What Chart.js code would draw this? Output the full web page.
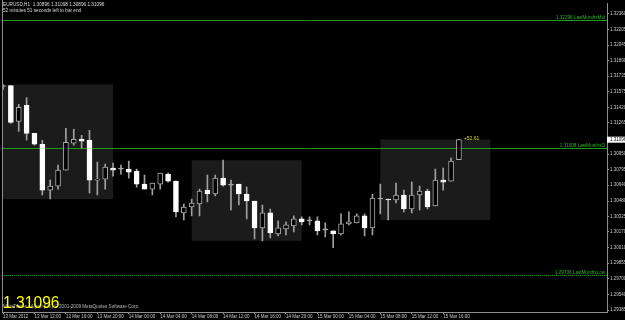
<!DOCTYPE html>
<html>
<head>
<meta charset="utf-8">
<script src="https://cdn.jsdelivr.net/npm/chart.js@4.4.1/dist/chart.umd.min.js"></script>
<style>
  html, body { margin: 0; padding: 0; background: #000; }
  #wrap { width: 625px; height: 320px; }
</style>
</head>
<body>
<div id="wrap"><canvas id="chart" width="625" height="320"></canvas></div>
<script>
// Chart header / footer texts
const symbol = 'EURUSD,H1';
const timeLeft = '52 minutes 51 seconds left to bar end';
const copyright = 'MetaTrader - Alpari (UK) \u00a9 2001-2009 MetaQuotes Software Corp.';
const pipsText = '+52.61';

// H1 bars, 13 Mar 2012 08:00 .. 15 Mar 2012 18:00
const open = [
  1.3163, 1.3164, 1.3128, 1.3144, 1.3116, 1.3105, 1.3059, 1.3063, 1.3079, 1.3106,
  1.3110, 1.3109, 1.3069, 1.3070, 1.3081, 1.3080, 1.3080, 1.3078, 1.3065, 1.3060,
  1.3065, 1.3075, 1.3068, 1.3036, 1.3042, 1.3045, 1.3059, 1.3055, 1.3071, 1.3064,
  1.3065, 1.3055, 1.3048, 1.3021, 1.3036, 1.3015, 1.3020, 1.3023, 1.3030, 1.3028,
  1.3028, 1.3019, 1.3018, 1.3015, 1.3025, 1.3026, 1.3033, 1.3021, 1.3050, 1.3050,
  1.3049, 1.3054, 1.3040, 1.3054, 1.3058, 1.3043, 1.3069, 1.3068, 1.30896
];
const high = [
  1.3165, 1.3164, 1.3145, 1.3152, 1.3116, 1.3109, 1.3069, 1.3084, 1.3121, 1.3120,
  1.3114, 1.3119, 1.3087, 1.3085, 1.3086, 1.3084, 1.3088, 1.3080, 1.3074, 1.3066,
  1.3076, 1.3076, 1.3068, 1.3045, 1.3050, 1.3060, 1.3074, 1.3074, 1.3089, 1.3069,
  1.3065, 1.3062, 1.3048, 1.3044, 1.3040, 1.3028, 1.3027, 1.3033, 1.3032, 1.3032,
  1.3032, 1.3026, 1.3018, 1.3035, 1.3037, 1.3035, 1.3035, 1.3055, 1.3065, 1.3050,
  1.3066, 1.3059, 1.3067, 1.3063, 1.3060, 1.3080, 1.3081, 1.3091, 1.31098
];
const low = [
  1.3160, 1.3126, 1.3118, 1.3109, 1.3104, 1.3054, 1.3050, 1.3060, 1.3079, 1.3104,
  1.3101, 1.3056, 1.3054, 1.3060, 1.3073, 1.3075, 1.3071, 1.3062, 1.3060, 1.3054,
  1.3060, 1.3067, 1.3032, 1.3029, 1.3033, 1.3033, 1.3047, 1.3053, 1.3063, 1.3039,
  1.3044, 1.3030, 1.3010, 1.3008, 1.3011, 1.3013, 1.3014, 1.3017, 1.3024, 1.3024,
  1.3014, 1.3012, 1.3001, 1.3014, 1.3024, 1.3026, 1.3013, 1.3014, 1.3035, 1.3029,
  1.3046, 1.3037, 1.3036, 1.3039, 1.3040, 1.3043, 1.3059, 1.3068, 1.30896
];
const close = [
  1.3163, 1.3127, 1.3142, 1.3116, 1.3105, 1.3059, 1.3063, 1.3079, 1.3107, 1.3110,
  1.3108, 1.3069, 1.3070, 1.3082, 1.3079, 1.3080, 1.3077, 1.3065, 1.3060, 1.3066,
  1.3076, 1.3068, 1.3037, 1.3042, 1.3046, 1.3058, 1.3055, 1.3071, 1.3064, 1.3064,
  1.3055, 1.3048, 1.3021, 1.3036, 1.3016, 1.3021, 1.3024, 1.3030, 1.3027, 1.3028,
  1.3018, 1.3019, 1.3015, 1.3025, 1.3027, 1.3033, 1.3021, 1.3051, 1.3050, 1.3049,
  1.3054, 1.3040, 1.3054, 1.3058, 1.3042, 1.3069, 1.3067, 1.3088, 1.31096
];

// time axis labels and the bar each one sits on
const timeLabels = [
  '13 Mar 2012', '13 Mar 12:00', '13 Mar 16:00', '13 Mar 20:00',
  '14 Mar 00:00', '14 Mar 04:00', '14 Mar 08:00', '14 Mar 12:00', '14 Mar 16:00', '14 Mar 20:00',
  '15 Mar 00:00', '15 Mar 04:00', '15 Mar 08:00', '15 Mar 12:00', '15 Mar 16:00'
];
const timeLabelBars = [0, 4, 8, 12, 16, 20, 24, 28, 32, 36, 40, 44, 48, 52, 56];

// price axis labels
const priceLabels = [
  1.32360, 1.32205, 1.32045, 1.31890, 1.31735, 1.31575, 1.31420, 1.31265,
  1.30950, 1.30795, 1.30640, 1.30480, 1.30325, 1.30170, 1.30010,
  1.29855, 1.29700, 1.29540, 1.29385
];

// session range boxes (bar index from/to, high/low)
const boxStart = [0, 24, 48];
const boxEnd = [14, 38, 62];
const boxHigh = [1.3165, 1.3089, 1.31098];
const boxLow = [1.3050, 1.3008, 1.3029];

// monthly levels
const levelValues = [1.32296, 1.31008, 1.29736];
const levelNames = ['LastMonthsMid', 'LastMonthsO', 'LastMonthsLow'];

const FONT = "'Liberation Sans', Arial, sans-serif";
const last = close.length - 1;

const bars = open.map((_, i) => i);
const bodyFill = bars.map(i => close[i] > open[i] ? '#000000' : (close[i] < open[i] ? '#ffffff' : '#b0b0b0'));
const bodyBorder = bars.map(i => close[i] < open[i] ? '#ffffff' : '#a8a8a8');

const mtOverlay = {
  id: 'mtOverlay',
  beforeDatasetsDraw(chart) {
    const { ctx, chartArea, scales: { x, y } } = chart;
    ctx.save();
    ctx.beginPath();
    ctx.rect(chartArea.left, chartArea.top, chartArea.width, chartArea.height);
    ctx.clip();

    // session boxes
    ctx.fillStyle = '#1b1b1b';
    boxStart.forEach((s, i) => {
      const x0 = x.getPixelForValue(s);
      const x1 = x.getPixelForValue(boxEnd[i]);
      const y0 = y.getPixelForValue(boxHigh[i]);
      const y1 = y.getPixelForValue(boxLow[i]);
      ctx.fillRect(x0, y0, x1 - x0, y1 - y0);
    });

    // level lines + labels
    ctx.font = `4.6px ${FONT}`;
    ctx.textAlign = 'right';
    ctx.textBaseline = 'alphabetic';
    levelValues.forEach((v, i) => {
      const py = Math.round(y.getPixelForValue(v)) + 0.5;
      ctx.strokeStyle = '#1f9a1f';
      ctx.lineWidth = 1;
      ctx.setLineDash(i === 2 ? [1, 1] : []);
      ctx.beginPath();
      ctx.moveTo(chartArea.left, py);
      ctx.lineTo(chartArea.right, py);
      ctx.stroke();
      ctx.fillStyle = '#2fae2f';
      ctx.fillText(`${v.toFixed(5)} ${levelNames[i]}`, chartArea.right - 2, py - 1.5);
    });
    ctx.restore();
  },
  afterDraw(chart) {
    const { ctx, chartArea, scales: { x, y } } = chart;
    ctx.save();

    // left frame line
    ctx.strokeStyle = '#909090';
    ctx.lineWidth = 1;
    ctx.beginPath();
    ctx.moveTo(chartArea.left + 0.5, 0);
    ctx.lineTo(chartArea.left + 0.5, chartArea.bottom);
    ctx.stroke();

    // header
    ctx.fillStyle = '#d8d8d8';
    ctx.font = `4.7px ${FONT}`;
    ctx.textAlign = 'left';
    ctx.textBaseline = 'middle';
    ctx.fillText(`${symbol}  ${open[last].toFixed(5)} ${high[last].toFixed(5)} ${low[last].toFixed(5)} ${close[last].toFixed(5)}`, 3, 5);
    ctx.fillText(timeLeft, 3, 10.5);

    // pips counter near last bar
    ctx.fillStyle = '#d8d800';
    ctx.font = `5px ${FONT}`;
    ctx.fillText(pipsText, x.getPixelForValue(last) + 5, y.getPixelForValue(close[last]) - 1.5);

    // current price tag on axis
    const py = y.getPixelForValue(close[last]);
    ctx.fillStyle = '#ffffff';
    ctx.fillRect(chartArea.right, py - 3, 18, 6);
    ctx.fillStyle = '#000000';
    ctx.font = `4.5px ${FONT}`;
    ctx.fillText(close[last].toFixed(5), chartArea.right + 3, py);

    // copyright + big price
    ctx.fillStyle = '#b8b8b8';
    ctx.font = `4.6px ${FONT}`;
    ctx.fillText(copyright, 3, 307);
    ctx.translate(3, 308);
    ctx.scale(0.92, 1);
    ctx.fillStyle = '#ffff00';
    ctx.font = `17px ${FONT}`;
    ctx.textBaseline = 'alphabetic';
    ctx.fillText(close[last].toFixed(5), 0, 0);
    ctx.restore();
  }
};

new Chart(document.getElementById('chart'), {
  type: 'bar',
  plugins: [mtOverlay],
  data: {
    datasets: [
      {
        label: 'body',
        data: bars.map(i => ({ x: i, y: [open[i], close[i]] })),
        backgroundColor: bodyFill,
        borderColor: bodyBorder,
        borderWidth: 1,
        borderSkipped: false,
        barThickness: 5,
        minBarLength: 1,
        grouped: false,
        order: 0
      },
      {
        label: 'wick',
        data: bars.map(i => ({ x: i, y: [low[i], high[i]] })),
        backgroundColor: '#a0a0a0',
        borderWidth: 0,
        barThickness: 1,
        minBarLength: 1,
        grouped: false,
        order: 1
      }
    ]
  },
  options: {
    responsive: false,
    animation: false,
    devicePixelRatio: 1,
    layout: { padding: { left: 2, top: 0, right: 0, bottom: 0 } },
    scales: {
      x: {
        type: 'linear',
        position: 'bottom',
        offset: false,
        min: -0.13,
        max: 76.84,
        afterBuildTicks: s => { s.ticks = timeLabelBars.map(v => ({ value: v })); },
        afterFit: s => { s.height = 8; },
        grid: { offset: false, drawOnChartArea: false, drawTicks: true, tickLength: 2, color: '#909090' },
        border: { color: '#909090' },
        ticks: {
          align: 'start',
          maxRotation: 0,
          minRotation: 0,
          autoSkip: false,
          padding: 0,
          color: '#c8c8c8',
          font: { family: FONT, size: 4.5 },
          callback: (v, i) => timeLabels[i]
        }
      },
      y: {
        type: 'linear',
        position: 'right',
        min: 1.29365,
        max: 1.32462,
        afterBuildTicks: s => { s.ticks = priceLabels.map(v => ({ value: v })); },
        afterFit: s => { s.width = 18; },
        grid: { drawOnChartArea: false, drawTicks: true, tickLength: 2, color: '#909090' },
        border: { color: '#909090' },
        ticks: {
          padding: 1,
          color: '#c8c8c8',
          font: { family: FONT, size: 4.5 },
          callback: v => v.toFixed(5)
        }
      }
    },
    plugins: {
      legend: { display: false },
      tooltip: { enabled: false }
    }
  }
});
</script>
</body>
</html>
